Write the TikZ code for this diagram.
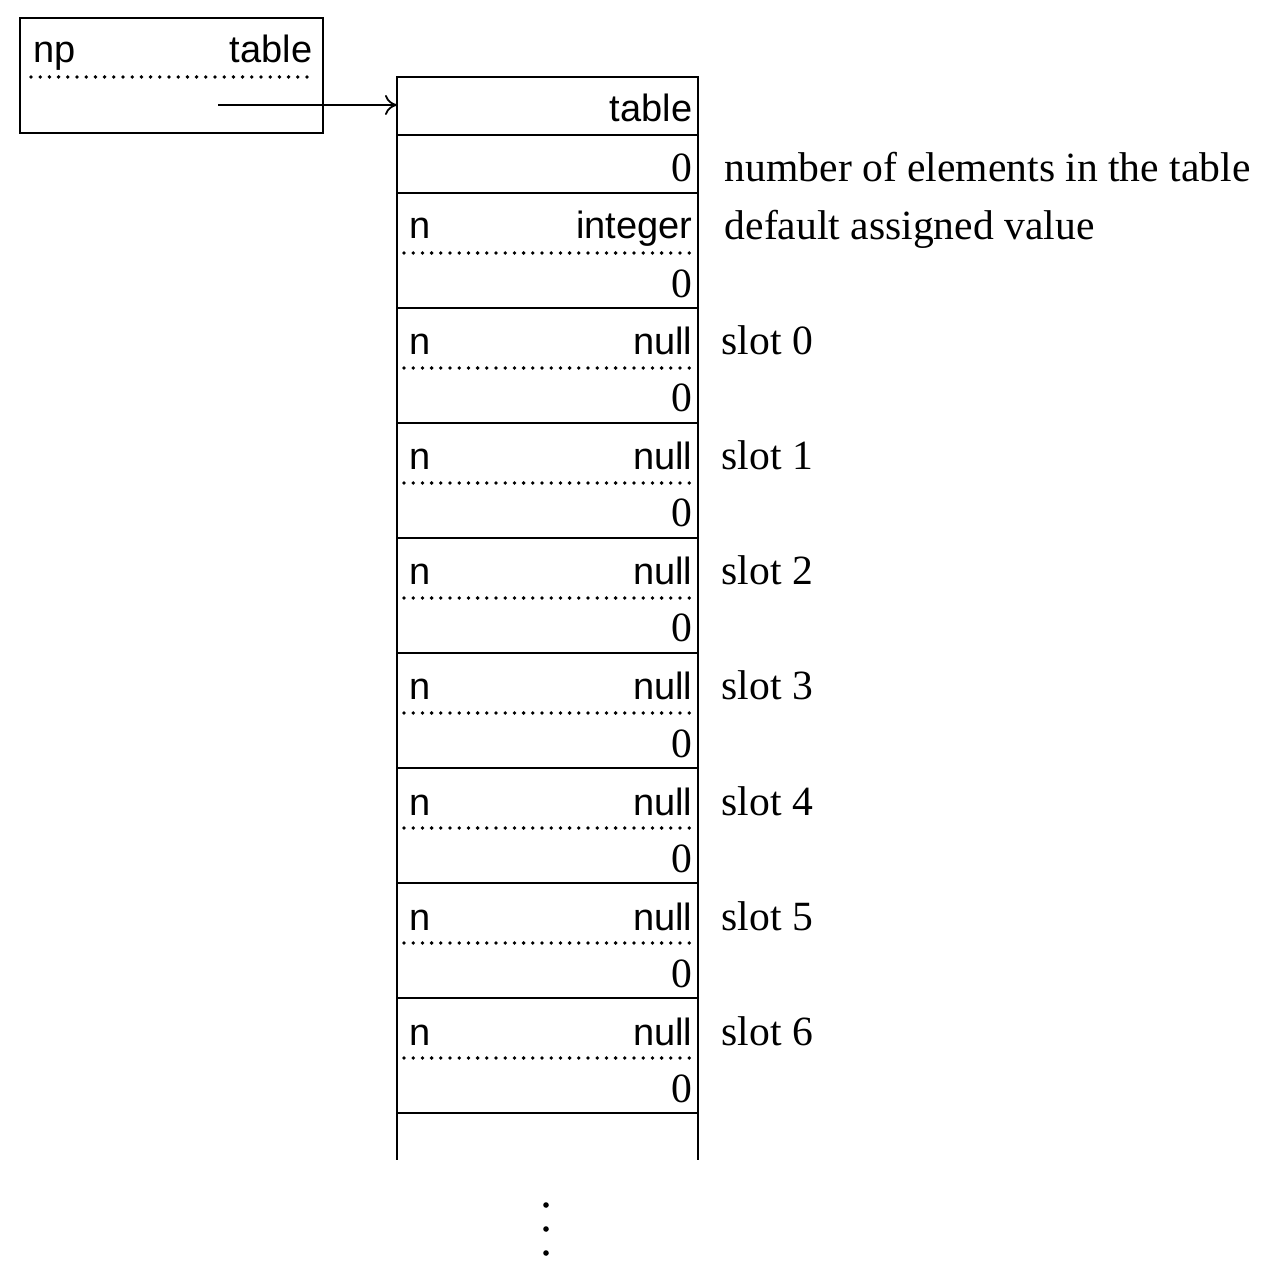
\documentclass[tikz,border=0pt]{standalone}
\usepackage{fontspec}
\setmainfont{Liberation Serif}
\setsansfont{Liberation Sans}
\usepackage{tikz}
\usetikzlibrary{arrows.meta}

\tikzset{
  cellline/.style={line width=0.65pt},
  dotline/.style={line width=0.95pt, dash pattern=on 0pt off 2.3pt, line cap=round},
  ptrline/.style={line width=0.45pt, -{To[length=3pt,width=5pt]}},
  fieldl/.style={anchor=base west, inner sep=0pt, font=\sffamily\fontsize{9.5}{11}\selectfont},
  fieldr/.style={anchor=base east, inner sep=0pt, font=\sffamily\fontsize{9.5}{11}\selectfont},
  numval/.style={anchor=base east, inner sep=0pt, font=\fontsize{10.4}{12}\selectfont},
  remark/.style={anchor=base west, inner sep=0pt, font=\fontsize{10.4}{12}\selectfont},
}

\begin{document}
\begin{tikzpicture}[x=0.25pt,y=-0.25pt]
  \useasboundingbox (0,0) rectangle (1264,1270);

  % np box
  \draw[cellline] (20,18) rectangle (323,133);
  \node[fieldl] (npname) at (33,63) {np};
  \node[fieldr] (nptype) at (313,63) {table};
  \draw[dotline] (31,77) -- (316,77);
  \coordinate (npptr) at (218,105);

  % header of the table
  \draw[cellline] (397,77) rectangle (698,193);
  \draw[cellline] (397,135) -- (698,135);
  \node[fieldr] (headtype) at (693,122) {table};
  \node[numval] (count) at (693,182) {0};
  \node[remark] (countnote) at (724,182) {number of elements in the table};
  \coordinate (tabin) at (397,105);
  \draw[ptrline] (npptr) -- (tabin);

  % default value
  \draw[cellline] (397,193) rectangle (698,308);
  \node[fieldl] (defname) at (409,239) {n};
  \node[fieldr] (deftype) at (693,239) {integer};
  \draw[dotline] (404,253) -- (694,253);
  \node[numval] (defval) at (693,298) {0};
  \node[remark] (defnote) at (724,240) {default assigned value};

  % slots
  \foreach \i [evaluate=\i as \t using 308+115*\i] in {0,...,6} {
    \draw[cellline] (397,\t) rectangle (698,\t+115);
    \node[fieldl] (slotname\i) at (409,\t+47) {n};
    \node[fieldr] (slottype\i) at (693,\t+47) {null};
    \draw[dotline] (404,\t+60) -- (694,\t+60);
    \node[numval] (slotval\i) at (693,\t+104) {0};
    \node[remark] (slotnote\i) at (721,\t+47) {slot \i};
  }

  % open end
  \draw[cellline] (397,1113) -- (397,1160);
  \draw[cellline] (698,1113) -- (698,1160);
  \fill (546,1205) circle (2.8);
  \fill (546,1229) circle (2.8);
  \fill (546,1253) circle (2.8);

\end{tikzpicture}
\end{document}
